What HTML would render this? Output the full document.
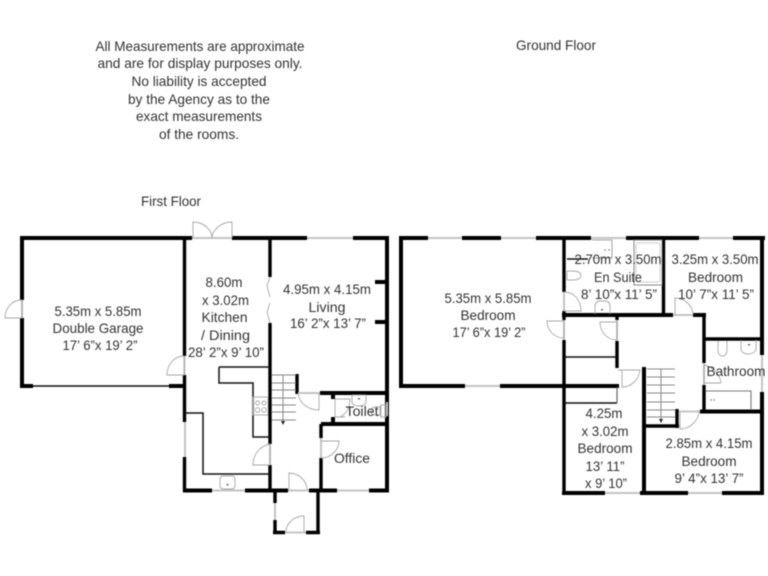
<!DOCTYPE html>
<html>
<head>
<meta charset="utf-8">
<style>
html,body{margin:0;padding:0;background:#fff;width:768px;height:576px;overflow:hidden}
svg{display:block;filter:blur(.45px)}
text{font-family:"Liberation Sans",sans-serif;font-size:14px;fill:#333;text-anchor:middle}
.w{stroke:#000;stroke-width:4;fill:none}
.m{stroke:#000;stroke-width:3.4;fill:none}
.t{stroke:#111;stroke-width:1.5;fill:none}
.g{stroke:#b4b4b4;stroke-width:1;fill:none}
.n{stroke:#c4c4c4;stroke-width:2;fill:none}
.d{stroke:#a6a6a6;stroke-width:.9;fill:none}
</style>
</head>
<body>
<svg width="768" height="576" viewBox="0 0 768 576" xmlns="http://www.w3.org/2000/svg">
<rect width="768" height="576" fill="#fff"/>

<!-- FIRST FLOOR walls -->
<path class="w" d="M20 238H192M232 238H307M353 238H389"/>
<path class="w" d="M22 238V300M22 318V388M20 386H33M169 386H186"/>
<path class="t" d="M33 386H169"/>
<path class="m" d="M184.500 238V356M184.500 375V422M184.500 457V492"/>
<path class="w" d="M183 490.500H212M245 490.500H288M309 490.500H337M369 490.500H389"/>
<path class="w" d="M387 238V490"/>
<path class="m" d="M270 238V277M270 323V444M270 465V492"/>
<path class="w" d="M375 282H387M375 322H387"/>
<path class="m" d="M297 374V394"/>
<path class="w" d="M320 393H389M321 424H389"/>
<path class="w" d="M333 393V399M333 417V424"/>
<path class="m" d="M321 424V438M321 458V492"/>
<path class="m" d="M275 490V503M275 520V534M273 532.500H285M306 532.500H320M318 490V534"/>
<path class="t" d="M219 367H270M219 367V383H253V437H270M185 413H203V474H270"/>

<!-- first floor windows -->
<path class="n" d="M307 238H353M192 238H232M185 422V457M212 490.500H245M337 490.500H369M275 503V520M387 402V416M288 490.500H309M285 532.500H306M298 393H320M22 300V318M184.500 356V375M270 444V465M321 438V458"/>

<!-- first floor doors -->
<path class="d" d="M5 318H22V300C12 300 5 308 5 318Z"/>
<path class="d" d="M167 375H184V356C174 356 167 365 167 375Z"/>
<path class="d" d="M193 238V222C204 222 212 230 212 238M232 238V222C221 222 212 230 212 238"/>
<path class="d" d="M270 277L267 286L270 297M270 303L267 312L270 323"/>
<path class="d" d="M253 465C253 454 260 446 270 444V465Z"/>
<path class="d" d="M289 490V473C299 473 307 481 307 490"/>
<path class="d" d="M286 532C286 523 294 516 304 516V532"/>
<path class="d" d="M319 393V410C308 410 299 403 298 393"/>
<path class="d" d="M321 441H339C339 450 331 458 321 458"/>
<path class="d" d="M335 399V417H345M335 399H350C350 408 346 414 340 417"/>

<!-- stairs first floor -->
<path class="g" style="stroke:#888" d="M272 375H296M272 383H296M272 390H296M272 398H296M272 405H296M272 412H296M272 420H296M283 375V421"/>
<path d="M281 421H285L283 425Z" fill="#222"/>

<!-- fittings first floor -->
<rect class="d" x="253" y="397" width="15" height="18"/>
<circle class="d" cx="257.500" cy="403" r="2"/><circle class="d" cx="264" cy="403" r="2"/>
<circle class="d" cx="257.500" cy="410" r="2.300"/><circle class="d" cx="264" cy="410" r="2.300"/>
<rect class="d" x="220" y="476" width="15" height="13" rx="3"/>
<rect x="226.500" y="484" width="2" height="1.500" fill="#666"/>
<path class="d" d="M352 395H366V401C366 405 363 406 359 406C355 406 352 405 352 401Z"/>
<rect x="358" y="398" width="2" height="1.500" fill="#666"/>
<path class="d" d="M380 406V416M380 407H376C372 407 371 409 371 411C371 413 372 415 376 415H380M381 405H386V417H381Z"/>

<!-- GROUND FLOOR walls -->
<path class="w" d="M400 238H428M462 238H501M536 238H591M626 238H699M733 238H765"/>
<path class="w" d="M401 236V388M399 386H465M500 386H566"/>
<path class="m" d="M564 238V292M564 340V494"/>
<path class="w" d="M562 315H673M693 315H706"/>
<path class="m" d="M564 311V320"/>
<path class="m" d="M663.500 238V315"/>
<path class="m" d="M704 315V363M704 385V413"/>
<path class="m" d="M704 339H762"/>
<path class="w" d="M762 238V355M762 392V495"/>
<path class="m" d="M617 315V320M617 341V368"/>
<path class="w" d="M555 386H619"/>
<path class="w" d="M562 493H605M640 493H688M722 493H764"/>
<path class="w" d="M644 367V494"/>
<path class="m" d="M644 426H679M677 409V428"/>
<path class="w" d="M700 411.500H764"/>
<path class="t" d="M565 357H617M565 403H617"/>
<path style="stroke:#666;stroke-width:1.200;fill:none" d="M617 387V403"/>

<!-- ground floor windows -->
<path class="n" d="M428 238H462M501 238H536M591 238H626M699 238H733M465 386H500M605 493H640M688 493H722M762 355V392M673 315H693M700 411.500H679M564 292V311M564 320V340M704 363V385M617 320V341"/>

<!-- ground floor doors -->
<path class="d" d="M564 292C574 292 581 300 581 311H564"/>
<path class="d" d="M547 321H564V338C554 338 547 330 547 321Z"/>
<path class="d" d="M600 322H617V340C607 340 600 332 600 322Z"/>
<path class="d" d="M622 370V387C631 387 639 380 640 370H618"/>
<path class="d" d="M675 315V298C685 298 693 306 693 315"/>
<path class="d" d="M680 412V429C690 429 698 421 699 412"/>
<path class="d" d="M704 365V383H721M704 365C713 367 720 374 721 383"/>

<!-- stairs ground -->
<path class="g" style="stroke:#888" d="M647 369H675M647 377H675M647 385H675M647 393H675M647 402H675M647 410H675M647 417H675M661 369V419"/>
<path d="M659 419H663L661 423Z" fill="#222"/>

<!-- ground fittings -->
<path class="t" d="M567 259H588"/>
<path class="d" style="stroke-width:1.100" d="M592 240H612V258H592"/>
<circle cx="605" cy="250" r=".7" fill="#666"/><circle cx="609" cy="250" r=".7" fill="#666"/>
<rect class="d" x="634" y="240" width="28" height="45" style="stroke:#888;stroke-width:1"/>
<rect class="d" x="636" y="243" width="24" height="39" rx="2" style="stroke:#ccc"/>
<path class="d" d="M567 271V280M567 271H573C578 271 581 273 581 275.500C581 278 578 280 573 280H567"/>
<path class="d" d="M595 314V306C595 303 597 301 600 301H605C608 301 610 303 610 306V314"/>
<rect x="601" y="309" width="2" height="1.500" fill="#666"/>
<path class="d" d="M718 341V349C718 354 720 356 722.500 356C725 356 727 354 727 349V341"/>
<path class="d" d="M741 340V349C741 352 744 354 748 354C752 354 756 352 756 349V340"/>
<rect x="748" y="344" width="2" height="1.500" fill="#666"/>
<path class="d" style="stroke:#777;stroke-width:1.100" d="M706 391H751V410"/>
<circle cx="711" cy="400" r=".7" fill="#666"/><circle cx="714" cy="400" r=".7" fill="#666"/>

<!-- heading text -->
<text lengthAdjust="spacingAndGlyphs" x="200" y="51" textLength="209">All Measurements are approximate</text>
<text lengthAdjust="spacingAndGlyphs" x="200" y="68" textLength="205">and are for  display purposes only.</text>
<text lengthAdjust="spacingAndGlyphs" x="199" y="86" textLength="135">No liability is accepted</text>
<text lengthAdjust="spacingAndGlyphs" x="199" y="104" textLength="142">by the Agency as to the</text>
<text lengthAdjust="spacingAndGlyphs" x="199" y="121" textLength="126">exact measurements</text>
<text lengthAdjust="spacingAndGlyphs" x="199" y="139" textLength="80">of the rooms.</text>
<text lengthAdjust="spacingAndGlyphs" x="556" y="50" textLength="80">Ground Floor</text>
<text lengthAdjust="spacingAndGlyphs" x="171" y="206" textLength="60">First Floor</text>

<!-- room labels -->
<text lengthAdjust="spacingAndGlyphs" x="98" y="316" textLength="87">5.35m x 5.85m</text>
<text lengthAdjust="spacingAndGlyphs" x="98" y="333" textLength="91">Double Garage</text>
<text lengthAdjust="spacingAndGlyphs" x="100" y="350" textLength="75">17’ 6”x 19’ 2”</text>

<text lengthAdjust="spacingAndGlyphs" x="224" y="287" textLength="37">8.60m</text>
<text lengthAdjust="spacingAndGlyphs" x="225.500" y="305" textLength="47">x 3.02m</text>
<text lengthAdjust="spacingAndGlyphs" x="224.500" y="322" textLength="46">Kitchen</text>
<text lengthAdjust="spacingAndGlyphs" x="225.500" y="340" textLength="49">/ Dining</text>
<text lengthAdjust="spacingAndGlyphs" x="226" y="357" textLength="76">28’ 2”x 9’ 10”</text>

<text lengthAdjust="spacingAndGlyphs" x="327" y="294" textLength="88">4.95m x 4.15m</text>
<text lengthAdjust="spacingAndGlyphs" x="327" y="312" textLength="37">Living</text>
<text lengthAdjust="spacingAndGlyphs" x="328" y="328" textLength="76">16’ 2”x 13’ 7”</text>

<text lengthAdjust="spacingAndGlyphs" x="362" y="416" textLength="33">Toilet</text>
<text lengthAdjust="spacingAndGlyphs" x="352" y="463" textLength="36">Office</text>

<text lengthAdjust="spacingAndGlyphs" x="488" y="303" textLength="87">5.35m x 5.85m</text>
<text lengthAdjust="spacingAndGlyphs" x="488" y="320" textLength="55">Bedroom</text>
<text lengthAdjust="spacingAndGlyphs" x="489" y="337" textLength="73">17’ 6”x 19’ 2”</text>

<text lengthAdjust="spacingAndGlyphs" x="618" y="264" textLength="87">2.70m x 3.50m</text>
<text lengthAdjust="spacingAndGlyphs" x="618" y="282" textLength="48">En Suite</text>
<text lengthAdjust="spacingAndGlyphs" x="619" y="299" textLength="76">8’ 10”x 11’ 5”</text>

<text lengthAdjust="spacingAndGlyphs" x="715" y="264" textLength="87">3.25m x 3.50m</text>
<text lengthAdjust="spacingAndGlyphs" x="715.500" y="282" textLength="55">Bedroom</text>
<text lengthAdjust="spacingAndGlyphs" x="716" y="299" textLength="76">10’ 7”x 11’ 5”</text>

<text lengthAdjust="spacingAndGlyphs" x="736" y="376" textLength="59">Bathroom</text>

<text lengthAdjust="spacingAndGlyphs" x="604" y="418" textLength="37">4.25m</text>
<text lengthAdjust="spacingAndGlyphs" x="605" y="436" textLength="47">x 3.02m</text>
<text lengthAdjust="spacingAndGlyphs" x="605" y="453" textLength="55">Bedroom</text>
<text lengthAdjust="spacingAndGlyphs" x="605" y="471" textLength="39">13’ 11”</text>
<text lengthAdjust="spacingAndGlyphs" x="606" y="488" textLength="42">x 9’ 10”</text>

<text lengthAdjust="spacingAndGlyphs" x="709" y="448" textLength="87">2.85m x 4.15m</text>
<text lengthAdjust="spacingAndGlyphs" x="709" y="466" textLength="55">Bedroom</text>
<text lengthAdjust="spacingAndGlyphs" x="709" y="483" textLength="69">9’ 4”x 13’ 7”</text>
</svg>
</body>
</html>
